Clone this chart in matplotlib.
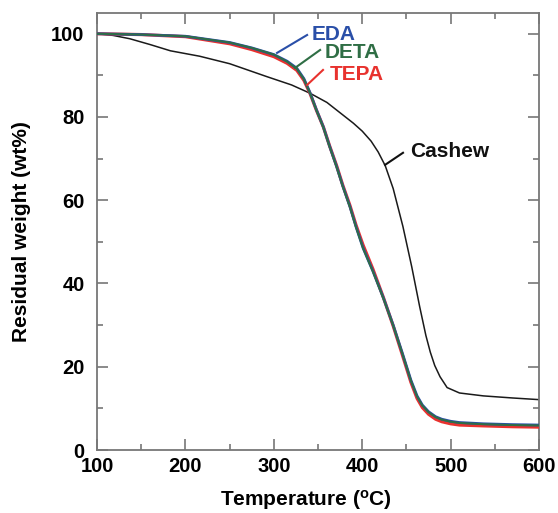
import matplotlib
matplotlib.use("Agg")
import matplotlib.pyplot as plt
from matplotlib.ticker import MultipleLocator

plt.rcParams['font.family'] = ['Liberation Sans', 'DejaVu Sans']
plt.rcParams['font.weight'] = 'bold'
plt.rcParams['mathtext.fontset'] = 'custom'
plt.rcParams['mathtext.rm'] = 'Liberation Sans:bold'
plt.rcParams['mathtext.bf'] = 'Liberation Sans:bold'
plt.rcParams['mathtext.it'] = 'Liberation Sans:bold'

# Temperature (°C) and residual weight (wt%)
amine_temp = [100, 150, 200, 250, 275, 300, 315, 326, 334, 341, 348, 356, 363, 371, 378, 386,
              393, 401, 412, 424, 435, 445, 455, 462, 468, 475, 483, 490, 500, 510, 537, 570, 600]
eda_wt = [100, 99.8, 99.4, 97.9, 96.6, 95.0, 93.4, 91.7, 89.2, 85.8, 81.8, 77.6, 73.0, 68.1, 63.4, 58.5,
          53.6, 48.5, 43.0, 36.5, 30.0, 23.5, 16.8, 13.0, 10.8, 9.2, 8.0, 7.4, 6.9, 6.6, 6.3, 6.1, 6.0]
deta_wt = [100, 99.8, 99.4, 97.9, 96.6, 95.0, 93.3, 91.6, 89.1, 85.7, 81.7, 77.5, 72.9, 68.0, 63.3, 58.4,
           53.5, 48.4, 42.9, 36.4, 29.9, 23.4, 16.7, 12.9, 10.7, 9.1, 7.9, 7.3, 6.8, 6.5, 6.2, 6.0, 5.9]
tepa_wt = [100, 99.8, 99.3, 97.6, 96.2, 94.5, 92.9, 91.2, 88.8, 85.6, 81.7, 77.6, 73.1, 68.3, 63.6, 58.8,
           54.0, 49.2, 43.5, 36.6, 29.8, 23.1, 16.3, 12.4, 10.2, 8.6, 7.4, 6.8, 6.3, 6.0, 5.8, 5.6, 5.5]

cashew_temp = [100, 118, 137, 160, 183, 216, 250, 292, 320, 341, 360, 375, 390, 400, 410, 418, 426, 435,
               446, 456, 465, 472, 477, 482, 488, 496, 510, 537, 570, 600]
cashew_wt = [100, 99.6, 98.8, 97.4, 95.9, 94.6, 92.8, 89.7, 87.7, 85.7, 83.5, 81.0, 78.5, 76.6, 74.2, 71.6, 68.3, 62.8,
             53.7, 44.0, 34.4, 27.5, 23.5, 20.3, 17.6, 15.0, 13.7, 13.0, 12.5, 12.1]

fig = plt.figure(figsize=(5.58, 5.13), dpi=100)
ax = fig.add_axes([0.174, 0.1228, 0.792, 0.852])

ax.plot(cashew_temp, cashew_wt, color='#1a1a1a', lw=1.1, zorder=2)
ax.plot(amine_temp, tepa_wt, color='#e8322e', lw=2.3, zorder=3)
ax.plot(amine_temp, eda_wt, color='#2a4fa8', lw=2.0, zorder=4)
ax.plot(amine_temp, deta_wt, color='#2f6e45', lw=1.4, zorder=5)

# annotations
ann = [
    ('EDA', '#2a4fa8', (303.6, 95.4), (337.6, 99.7), (343.2, 99.7)),
    ('DETA', '#2f6e45', (324.0, 91.8), (352.3, 96.1), (357.9, 95.6)),
    ('TEPA', '#e8322e', (337.6, 87.7), (355.6, 91.3), (363.6, 90.1)),
    ('Cashew', '#111111', (425.8, 68.5), (446.1, 71.4), (454.1, 71.8)),
]
for label, col, p0, p1, pt in ann:
    ax.plot([p0[0], p1[0]], [p0[1], p1[1]], color=col, lw=1.5, zorder=6)
    ax.text(pt[0], pt[1], label, color=col, fontsize=15,
            fontweight='bold', ha='left', va='center')

ax.set_xlim(100, 600)
ax.set_ylim(0, 105)
ax.xaxis.set_major_locator(MultipleLocator(100))
ax.xaxis.set_minor_locator(MultipleLocator(50))
ax.yaxis.set_major_locator(MultipleLocator(20))
ax.yaxis.set_minor_locator(MultipleLocator(10))
ax.tick_params(which='both', direction='in', top=True, right=True, color='#777777', width=1.2)
ax.tick_params(which='major', length=8, labelsize=14.5)
ax.tick_params(axis='x', which='major', pad=5)
ax.tick_params(axis='y', which='major', pad=9)
ax.tick_params(which='minor', length=4.5)
for lab in ax.get_xticklabels() + ax.get_yticklabels():
    lab.set_fontweight('bold')
for s in ax.spines.values():
    s.set_color('#777777')
    s.set_linewidth(1.3)

ax.set_xlabel(r'Temperature ($^{\mathrm{o}}$C)', fontsize=15, fontweight='bold')
ax.xaxis.set_label_coords(0.473, -0.088)
ax.set_ylabel('Residual weight (wt%)', fontsize=15, fontweight='bold')
ax.yaxis.set_label_coords(-0.15, 0.5)

fig.savefig('out.png', dpi=100)
